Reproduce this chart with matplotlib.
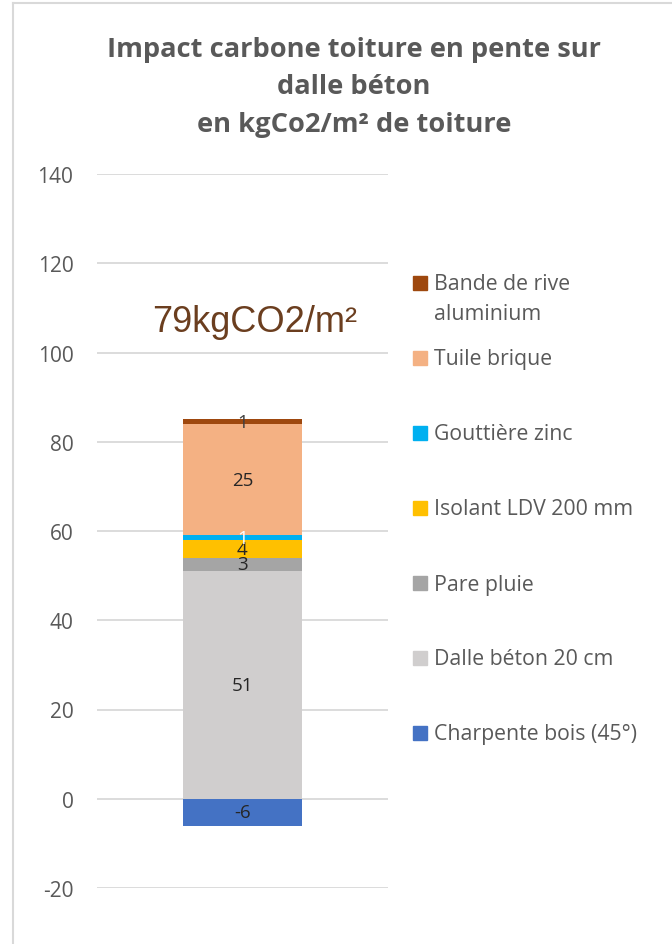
import matplotlib.pyplot as plt
from matplotlib.lines import Line2D
from matplotlib.patches import Rectangle

# Données du graphique (de bas en haut)
categories = ["Charpente bois (45°)", "Dalle béton 20 cm", "Pare pluie",
              "Isolant LDV 200 mm", "Gouttière zinc", "Tuile brique",
              "Bande de rive\naluminium"]
values = [-6, 51, 3, 4, 1, 25, 1]
colors = ["#4472c4", "#d0cece", "#a5a5a5", "#ffc000", "#00b0f0", "#f4b183", "#9e480e"]
label_colors = ["#262626", "#262626", "#262626", "#262626", "#ffffff", "#262626", "#404040"]
total_label = "79kgCO2/m²"
title_lines = ["Impact carbone toiture en pente sur", "dalle béton",
               "en kgCo2/m² de toiture"]
yticks = list(range(-20, 141, 20))

plt.rcParams['font.family'] = ['Open Sans', 'DejaVu Sans']
plt.rcParams['axes.unicode_minus'] = False

fig = plt.figure(figsize=(6.72, 9.45), dpi=100)
ax = fig.add_axes([97 / 672, 56 / 945, 291 / 672, 714 / 945])

# Barre empilée : les négatifs descendent depuis 0, les positifs montent
pos_bottom = 0
neg_bottom = 0
for val, col, lcol in zip(values, colors, label_colors):
    if val >= 0:
        bottom = pos_bottom
        pos_bottom += val
    else:
        bottom = neg_bottom
        neg_bottom += val
    ax.bar(0, val, bottom=bottom, width=0.412, color=col, zorder=2)
    ax.text(0, bottom + val / 2, str(val), ha="center", va="center",
            fontsize=13.5, color=lcol, zorder=3)

ax.text(0.043, 107, total_label, ha="center", va="center", fontsize=26,
        color="#6b3e1f", family="Liberation Sans")

ax.set_xlim(-0.5, 0.5)
ax.set_ylim(-20, 140)
ax.set_yticks(yticks)
ax.set_xticks([])
ax.yaxis.grid(True, color="#d9d9d9", lw=1.3)
ax.set_axisbelow(True)
for s in ax.spines.values():
    s.set_visible(False)
ax.tick_params(axis="y", length=0, pad=17, labelsize=15, labelcolor="#595959")

# Légende faite à la main (ordre inverse, comme Excel)
for i, (cat, col) in enumerate(zip(categories[::-1], colors[::-1])):
    y = 284 if i == 0 else 359 + 75 * (i - 1)
    fig.add_artist(Rectangle((413 / 672, 1 - (y + 7) / 945), 14 / 672, 14 / 945,
                             transform=fig.transFigure, color=col))
    for j, line in enumerate(cat.split("\n")):
        fig.text(434 / 672, 1 - (y + 1 + 30 * j) / 945, line, ha="left", va="center",
                 fontsize=15.3, color="#595959")

# Titre, une ligne à la fois
for k, line in enumerate(title_lines):
    fig.text(354 / 672, 1 - (57 + 37.5 * k) / 945, line, ha="center", va="baseline",
             fontsize=19.6, fontweight="bold", color="#595959")

# Cadre du graphique
fig.add_artist(Line2D([13 / 672, 13 / 672], [0, 1 - 4 / 945], color="#d9d9d9", lw=1.5))
fig.add_artist(Line2D([13 / 672, 1], [1 - 4 / 945, 1 - 4 / 945], color="#d9d9d9", lw=1.5))

fig.savefig("out.png", dpi=100)
